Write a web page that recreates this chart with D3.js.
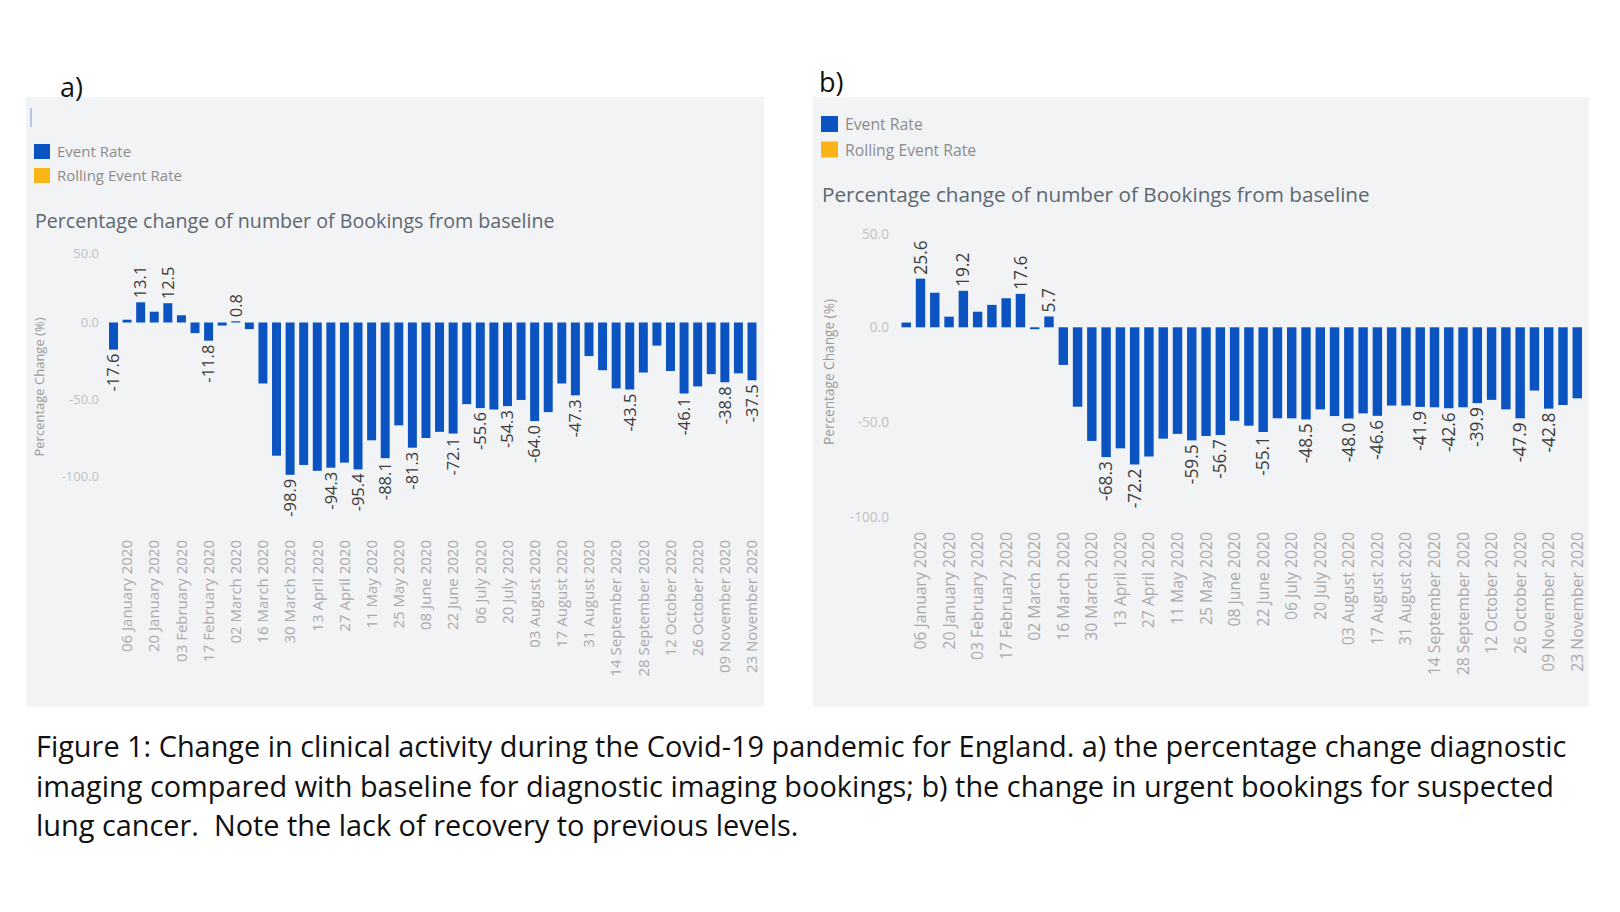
<!DOCTYPE html>
<html><head><meta charset="utf-8">
<script src="https://cdn.jsdelivr.net/npm/d3@7"></script>
<style>
body{margin:0;background:#fff;}
svg{display:block;}
text{font-family:"Open Sans","Noto Sans",sans-serif;}
</style>
</head><body>
<svg id="c" width="1620" height="912"></svg>
<script>
// ---------------- DATA ----------------
const weeks = [
 "30 December 2019","06 January 2020","13 January 2020","20 January 2020","27 January 2020",
 "03 February 2020","10 February 2020","17 February 2020","24 February 2020",
 "02 March 2020","09 March 2020","16 March 2020","23 March 2020","30 March 2020",
 "06 April 2020","13 April 2020","20 April 2020","27 April 2020",
 "04 May 2020","11 May 2020","18 May 2020","25 May 2020",
 "01 June 2020","08 June 2020","15 June 2020","22 June 2020","29 June 2020",
 "06 July 2020","13 July 2020","20 July 2020","27 July 2020",
 "03 August 2020","10 August 2020","17 August 2020","24 August 2020","31 August 2020",
 "07 September 2020","14 September 2020","21 September 2020","28 September 2020",
 "05 October 2020","12 October 2020","19 October 2020","26 October 2020",
 "02 November 2020","09 November 2020","16 November 2020","23 November 2020"
];
// a) diagnostic imaging bookings, % change from baseline
const eventRateA = [
 -17.6, 1.8, 13.1, 7.0, 12.5, 4.7, -6.9, -11.8, -2.0, 0.8, -4.3, -39.6,
 -86.5, -98.9, -92.5, -96.3, -94.3, -91.0, -95.4, -76.5, -88.1, -66.8, -81.3, -75.0,
 -71.0, -72.1, -53.0, -55.6, -56.5, -54.3, -50.3, -64.0, -58.2, -39.6, -47.3, -21.8,
 -31.0, -42.8, -43.5, -32.5, -15.0, -31.5, -46.1, -41.5, -33.5, -38.8, -33.0, -37.5
];
// b) urgent bookings for suspected lung cancer, % change from baseline
const eventRateB = [
 2.5, 25.6, 18.2, 5.6, 19.2, 8.2, 11.8, 15.3, 17.6, -1.0, 5.7, -19.8,
 -41.8, -59.8, -68.3, -63.7, -72.2, -68.0, -58.6, -56.1, -59.5, -57.2, -56.7, -49.2,
 -51.8, -55.1, -47.9, -47.9, -48.5, -43.2, -46.7, -48.0, -45.3, -46.6, -41.2, -41.2,
 -41.9, -42.1, -42.6, -42.1, -39.9, -38.2, -43.2, -47.9, -33.3, -42.8, -40.9, -37.4
];
// indexes of bars that carry a value label
const labelledA = [0,2,4,7,9,13,16,18,20,22,25,27,29,31,34,38,42,45,47];
const labelledB = [1,4,8,10,14,16,20,22,25,28,31,33,36,38,40,43,45];
const yTicks = [50, 0, -50, -100];
const legendLabels = ["Event Rate", "Rolling Event Rate"];
const legendColors = ["#0b53c1", "#fbb418"];
const chartTitle = "Percentage change of number of Bookings from baseline";
const yAxisTitle = "Percentage Change (%)";
const panelLetters = ["a)", "b)"];
const captionLines = [
 "Figure 1: Change in clinical activity during the Covid-19 pandemic for England. a) the percentage change diagnostic",
 "imaging compared with baseline for diagnostic imaging bookings; b) the change in urgent bookings for suspected",
 "lung cancer.  Note the lack of recovery to previous levels."
];

// ---------------- DRAW ----------------
const svg = d3.select("#c");
const loc = d3.formatLocale({decimal:".", thousands:",", grouping:[3], currency:["",""], minus:"-"});
const fmt = loc.format(".1f");
const BAR = legendColors[0];

function fitFont(sel, target, base) {
  sel.style("font-size", base + "px");
  const w = sel.node().getComputedTextLength();
  sel.style("font-size", (base * target / w) + "px");
}

const panels = [
  { letter: panelLetters[0], values: eventRateA, labelled: labelledA,
    bg: [26, 97, 764, 707], xr: [106.7, 758.8], yr: [245.5, 476.5],
    axisX: 102, topShift: 8, yTitle: [39, 387], xLabY: 540,
    leg: {x: 34, y: 144, s: 16, tx: 57, dy: 24}, stray: true,
    title: {x: 35, y: 221, w: 520}, letterPos: [60, 97], k: 1 },
  { letter: panelLetters[1], values: eventRateB, labelled: labelledB,
    bg: [813, 97, 1589, 707], xr: [899.1, 1584.4], yr: [232.3, 517.3],
    axisX: 892, topShift: 2, yTitle: [829, 372], xLabY: 532,
    leg: {x: 821, y: 116, s: 17, tx: 845, dy: 25.5}, stray: false,
    title: {x: 822, y: 195, w: 548}, letterPos: [819, 92], k: 1.05 }
];

panels.forEach(p => {
  const g = svg.append("g");
  g.append("rect").attr("x", p.bg[0]).attr("y", p.bg[1])
    .attr("width", p.bg[2] - p.bg[0]).attr("height", p.bg[3] - p.bg[1])
    .attr("fill", "#f2f3f5");

  // panel letter
  svg.append("text").attr("x", p.letterPos[0]).attr("y", p.letterPos[1])
    .attr("fill", "#111").style("font-size", "27px").text(p.letter);

  if (p.stray) {
    g.append("line").attr("x1", 31).attr("x2", 31).attr("y1", 108).attr("y2", 127)
      .attr("stroke", "#a7b6e0").attr("stroke-width", 1.5);
  }

  // legend
  legendLabels.forEach((lab, i) => {
    g.append("rect").attr("x", p.leg.x).attr("y", p.leg.y + i * p.leg.dy)
      .attr("width", p.leg.s).attr("height", p.leg.s - 1).attr("fill", legendColors[i]);
    g.append("text").attr("x", p.leg.tx).attr("y", p.leg.y + i * p.leg.dy + p.leg.s / 2)
      .attr("dy", "0.35em").attr("fill", "#8c8c8c")
      .style("font-size", (15 * p.k) + "px").text(lab);
  });

  // title
  const t = g.append("text").attr("x", p.title.x).attr("y", p.title.y).attr("dy", "0.35em")
    .attr("fill", "#5d6771").text(chartTitle);
  fitFont(t, p.title.w, 19);

  const x = d3.scaleBand().domain(weeks).range(p.xr).paddingInner(0.34).paddingOuter(0.17);
  const y = d3.scaleLinear().domain([50, -100]).range(p.yr);

  // y axis
  const ya = g.append("g").attr("transform", `translate(${p.axisX},0)`)
    .call(d3.axisLeft(y).tickValues(yTicks).tickSize(0).tickPadding(3).tickFormat(fmt));
  ya.select(".domain").remove();
  ya.selectAll("text").attr("fill", "#c2c2c2")
    .style("font-family", '"Open Sans",sans-serif').style("font-size", (13 * p.k) + "px");
  ya.selectAll(".tick").filter(d => d === 50).select("text").attr("dy", (0.32) + "em")
    .attr("transform", `translate(0,${p.topShift})`);

  g.append("text").attr("transform", `translate(${p.yTitle[0]},${p.yTitle[1]}) rotate(-90)`)
    .attr("text-anchor", "middle").attr("dy", "0.35em").attr("fill", "#9a9a9a")
    .style("font-size", (13 * p.k) + "px").text(yAxisTitle);

  // bars
  g.selectAll("rect.bar").data(p.values).join("rect").attr("class", "bar")
    .attr("x", (d, i) => x(weeks[i])).attr("width", x.bandwidth())
    .attr("y", d => y(Math.max(0, d))).attr("height", d => Math.abs(y(d) - y(0)))
    .attr("fill", BAR);

  // value labels
  g.selectAll("text.val").data(p.labelled).join("text").attr("class", "val")
    .attr("transform", i => {
      const v = p.values[i];
      const cx = x(weeks[i]) + x.bandwidth() / 2;
      const yy = v >= 0 ? y(v) - 4 : y(v) + 4;
      return `translate(${cx},${yy}) rotate(-90)`;
    })
    .attr("text-anchor", i => p.values[i] >= 0 ? "start" : "end")
    .attr("dy", "0.35em").attr("fill", "#3c3c3c")
    .style("font-size", (16.5 * p.k) + "px")
    .text(i => fmt(p.values[i]));

  // x axis labels (every other week)
  const xa = g.append("g").attr("transform", `translate(0,${p.xLabY})`)
    .call(d3.axisBottom(x).tickValues(weeks.filter((d, i) => i % 2 === 1)).tickSize(0).tickPadding(0));
  xa.select(".domain").remove();
  xa.selectAll("text").attr("transform", "rotate(-90)").attr("text-anchor", "end")
    .attr("x", 0).attr("y", 0).attr("dy", "0.35em").attr("fill", "#aaaaaa")
    .style("font-family", '"Open Sans",sans-serif').style("font-size", (15 * p.k) + "px");
});

// caption
const capY = [757, 797, 836];
const capFirst = svg.append("text").attr("x", 36).attr("y", capY[0]).attr("fill", "#111")
  .attr("xml:space", "preserve").style("white-space", "pre").text(captionLines[0]);
fitFont(capFirst, 1531, 24);
const capSize = capFirst.style("font-size");
captionLines.slice(1).forEach((l, i) => {
  svg.append("text").attr("x", 36).attr("y", capY[i + 1]).attr("fill", "#111")
    .style("white-space", "pre").style("font-size", capSize).text(l);
});
</script>
</body></html>
